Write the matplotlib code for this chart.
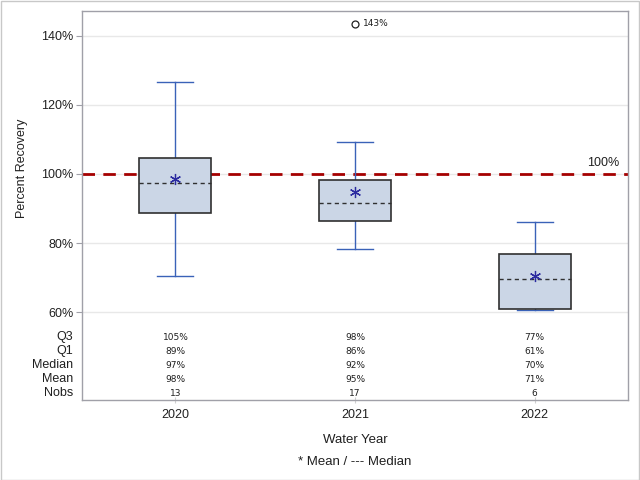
import matplotlib
matplotlib.use("Agg")
import matplotlib.pyplot as plt
from matplotlib.patches import Rectangle
import matplotlib.transforms as mtransforms

plt.rcParams['font.family'] = ['Liberation Sans', 'DejaVu Sans']

years = ['2020', '2021', '2022']
q1 = [88.7, 86.3, 60.8]
q3 = [104.7, 98.2, 76.7]
median = [97.4, 91.7, 69.6]
mean = [98.4, 94.8, 70.5]
whisk_lo = [70.4, 78.3, 60.5]
whisk_hi = [126.6, 109.1, 86.1]
outliers = [[], [143.4], []]
nobs = [13, 17, 6]
q3_lbl = ['105%', '98%', '77%']
q1_lbl = ['89%', '86%', '61%']
med_lbl = ['97%', '92%', '70%']
mean_lbl = ['98%', '95%', '71%']
ref_value = 100
yticks = [60, 80, 100, 120, 140]

fig = plt.figure(figsize=(6.4, 4.8), dpi=100)
W, H = 640, 480
ax = fig.add_axes([82 / W, 1 - 400 / H, (628 - 82) / W, (400 - 11) / H])

# figure border
fig.patches.append(Rectangle((0.5 / W, 0.5 / H), 1 - 1.5 / W, 1 - 1.5 / H, transform=fig.transFigure,
                             fill=False, edgecolor='#c8c8c8', linewidth=1))

ax.set_xlim(-0.52, 2.52)
ax.set_ylim(34.6, 147.1)
for s in ax.spines.values():
    s.set_color('#a0a0a8')
    s.set_linewidth(1)

for t in yticks:
    ax.axhline(t, color='#e8e8e8', linewidth=1, zorder=0)

ax.axhline(ref_value, color='#a50000', linewidth=2, linestyle=(0, (4.5, 3)), zorder=1)
ax.text(0.985, ref_value + 1.3, '100%', transform=mtransforms.blended_transform_factory(ax.transAxes, ax.transData),
        ha='right', va='bottom', fontsize=9, color='#202020')

bw = 0.40
cw = 0.20
wcol = '#3a62b8'
small = ['DejaVu Sans']
for i in range(len(years)):
    ax.plot([i, i], [q3[i], whisk_hi[i]], color=wcol, lw=1, zorder=2)
    ax.plot([i, i], [q1[i], whisk_lo[i]], color=wcol, lw=1, zorder=2)
    ax.plot([i - cw / 2, i + cw / 2], [whisk_hi[i]] * 2, color=wcol, lw=1, zorder=2)
    ax.plot([i - cw / 2, i + cw / 2], [whisk_lo[i]] * 2, color=wcol, lw=1, zorder=2)
    ax.add_patch(Rectangle((i - bw / 2, q1[i]), bw, q3[i] - q1[i], facecolor='#cbd6e6',
                           edgecolor='#303030', lw=1.2, zorder=3))
    ax.plot([i - bw / 2, i + bw / 2], [median[i]] * 2, color='#303030', lw=1,
            linestyle=(0, (3, 2.5)), zorder=4)
    ax.plot(i, mean[i], marker=(6, 2, 0), markersize=8, color='#2b2ba0', mew=0.9,
            linestyle='none', zorder=5)
    for o in outliers[i]:
        ax.plot(i, o, marker='o', markersize=5, mfc='none', mec='#202020', mew=0.9, zorder=5)
        ax.text(i + 0.045, o, f'{o:.0f}%', fontsize=6.5, va='center', ha='left', color='#202020',
                family=small)

ax.set_yticks(yticks)
ax.set_yticklabels([f'{t}%' for t in yticks], fontsize=9, color='#202020')
ax.tick_params(axis='y', length=4, color='#a0a0a8', pad=2)
ax.set_xticks(range(len(years)))
ax.set_xticklabels(years, fontsize=9, color='#202020')
ax.tick_params(axis='x', length=5, color='#d0d0d0', pad=4, direction='inout')

ax.set_ylabel('Percent Recovery', fontsize=9, color='#202020')
ax.yaxis.set_label_coords(-0.099, 0.596)
ax.set_xlabel('Water Year', fontsize=9.5, color='#202020', labelpad=9)

# statistics table inside axes frame
rows = [('Q3', q3_lbl), ('Q1', q1_lbl), ('Median', med_lbl), ('Mean', mean_lbl),
        ('Nobs', [str(n) for n in nobs])]
row_y = [337, 351, 365, 379, 393]
trans = mtransforms.blended_transform_factory(ax.transData, fig.transFigure)
for (name, vals), py in zip(rows, row_y):
    yf = 1 - py / H
    fig.text(73 / W, yf, name, ha='right', va='center', fontsize=9, color='#202020')
    for i, v in enumerate(vals):
        ax.text(i, yf, v, transform=trans, ha='center', va='center', fontsize=6.5,
                color='#202020', family=small)

fig.text(355 / W, 1 - 462 / H, '* Mean / --- Median', ha='center', va='center', fontsize=9.5,
         color='#202020')

fig.savefig('out.png', dpi=100)
